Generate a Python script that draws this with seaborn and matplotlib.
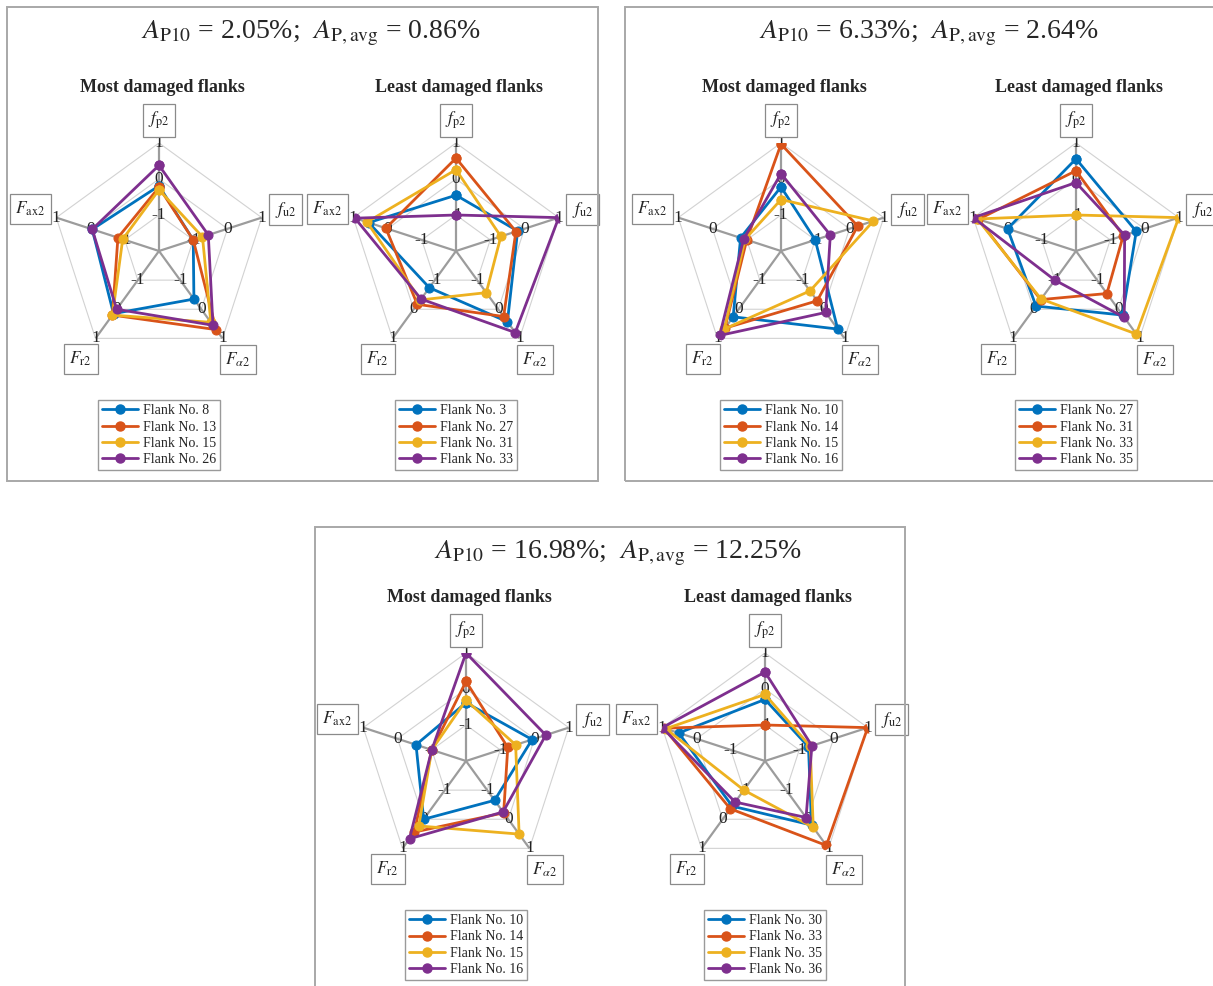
import numpy as np
import pandas as pd
import matplotlib
matplotlib.use("Agg")
import matplotlib.pyplot as plt
import seaborn as sns
from matplotlib.lines import Line2D
from matplotlib.patches import Rectangle

# ---------------- data ----------------
axis_labels = [r"$f_{\mathrm{p2}}$", r"$f_{\mathrm{u2}}$", r"$F_{\alpha\mathrm{2}}$",
               r"$F_{\mathrm{r2}}$", r"$F_{\mathrm{ax2}}$"]
ring_levels = [-1, 0, 1]
colors = ["#0072BD", "#D95319", "#EDB120", "#7E2F8E"]

titles = [r"$A_{\mathrm{P10}}$ = 2.05%;  $A_{\mathrm{P,avg}}$ = 0.86%",
          r"$A_{\mathrm{P10}}$ = 6.33%;  $A_{\mathrm{P,avg}}$ = 2.64%",
          r"$A_{\mathrm{P10}}$ = 16.98%;  $A_{\mathrm{P,avg}}$ = 12.25%"]
subtitles = ["Most damaged flanks", "Least damaged flanks"]

# values ordered as [f_p2, f_u2, F_alpha2, F_r2, F_ax2]
flanks_a_most = [8, 13, 15, 26]
vals_a_most = [[-0.19, -1.00, -0.35, 0.15, -0.05],
               [-0.23, -1.00, 0.70, 0.20, -0.80],
               [-0.30, -0.73, 0.45, 0.20, -0.94],
               [0.38, -0.56, 0.55, 0.00, -0.05]]
flanks_a_least = [3, 27, 31, 33]
vals_a_least = [[-0.45, -0.20, 0.43, -0.74, 0.55],
                [0.58, -0.25, 0.25, -0.17, 0.05],
                [0.26, -0.69, -0.57, -0.32, 0.60],
                [-1.00, 1.00, 0.80, -0.35, 0.95]]
flanks_b_most = [10, 14, 15, 16]
vals_b_most = [[-0.22, -1.00, 0.68, 0.26, -0.82],
               [0.97, 0.24, -0.29, 0.65, -1.00],
               [-0.57, 0.70, -0.63, 0.68, -0.95],
               [0.15, -0.56, 0.11, 0.90, -0.91]]
flanks_b_least = [27, 31, 33, 35]
vals_b_least = [[0.56, -0.24, 0.20, -0.11, 0.00],
                [0.23, -0.62, -0.54, -0.33, 0.85],
                [-1.00, 1.00, 0.85, -0.35, 0.88],
                [-0.10, -0.58, 0.28, -1.00, 1.00]]
flanks_c_most = [10, 14, 15, 16]
vals_c_most = [[-0.38, -0.07, -0.65, 0.00, -0.54],
               [0.21, -0.78, -0.22, 0.44, -1.00],
               [-0.31, -0.55, 0.51, 0.23, -1.00],
               [1.00, 0.33, -0.25, 0.67, -1.00]]
flanks_c_least = [30, 33, 35, 36]
vals_c_least = [[-0.29, -0.73, 0.20, -0.45, 0.52],
                [-1.00, 1.00, 0.90, -0.36, 0.95],
                [-0.15, -0.68, 0.28, -1.00, 0.90],
                [0.47, -0.63, -0.06, -0.59, 1.00]]

# ---------------- style ----------------
sns.set_theme(style="white")
plt.rcParams["font.family"] = ["Liberation Serif", "DejaVu Serif"]
plt.rcParams["mathtext.fontset"] = "stix"

W, H = 1213, 986
fig = plt.figure(figsize=(W / 100, H / 100), dpi=100)
R = 108  # radar radius in px

theta = np.pi / 2 - np.arange(5) * 2 * np.pi / 5
theta_closed = np.append(theta, theta[0] - 2 * np.pi)
label_r = [1.62, 1.70, 1.72, 1.70, 1.76]


def radar(cx, cy, flanks, vals, legend_top):
    ax = fig.add_axes([(cx - R) / W, 1 - (cy + R) / H, 2 * R / W, 2 * R / H],
                      projection="polar")
    ax.set_facecolor("none")
    # web
    for lvl in ring_levels:
        ax.plot(theta_closed, [lvl] * 6, color="#d2d2d2", lw=0.8, zorder=1)
    for t in theta:
        ax.plot([t, t], [-2, 1], color="#9c9c9c", lw=1.6, zorder=1)
    # tick labels
    for t in theta:
        for lvl in ring_levels:
            ax.text(t, lvl, str(lvl), ha="center", va="center", fontsize=12.5,
                    color="#222222", zorder=2)
    # data
    handles = []
    for fl, v, c in zip(flanks, vals, colors):
        df = pd.DataFrame({"theta": theta_closed, "value": np.append(v, v[0])})
        sns.lineplot(data=df, x="theta", y="value", sort=False, estimator=None,
                     color=c, lw=2, marker="o", markersize=6.5,
                     markeredgecolor=c, ax=ax, legend=False, zorder=3)
        handles.append(Line2D([0], [0], color=c, lw=2, marker="o",
                              markersize=6.5, label=f"Flank No. {fl}"))
    ax.set_ylim(-2, 1)
    ax.set_xticks([])
    ax.set_yticks([])
    ax.grid(False)
    ax.spines["polar"].set_visible(False)
    ax.set_xlabel("")
    ax.set_ylabel("")
    # axis name boxes
    for t, lab, lr in zip(theta, axis_labels, label_r):
        ax.text(t, lr, lab, ha="center", va="center", fontsize=12.5,
                clip_on=False, zorder=4,
                bbox=dict(boxstyle="square,pad=0.32", fc="white",
                          ec="#8a8a8a", lw=0.9))
    fig.legend(handles=handles, loc="upper center",
               bbox_to_anchor=(cx / W, 1 - legend_top / H), fontsize=10,
               frameon=True, fancybox=False, edgecolor="#9a9a9a",
               framealpha=1, borderpad=0.3, labelspacing=0.24,
               handlelength=2.6, handletextpad=0.3, borderaxespad=0)


panels = [
    (159, 251, flanks_a_most, vals_a_most, 400, 0),
    (456, 251, flanks_a_least, vals_a_least, 400, 1),
    (781, 251, flanks_b_most, vals_b_most, 400, 0),
    (1076, 251, flanks_b_least, vals_b_least, 400, 1),
    (466, 761, flanks_c_most, vals_c_most, 910, 0),
    (765, 761, flanks_c_least, vals_c_least, 910, 1),
]
for cx, cy, fl, vals, ltop, si in panels:
    radar(cx, cy, fl, vals, ltop)
    fig.text((cx + 3) / W, 1 - (cy - 164) / H, subtitles[si], ha="center",
             va="center", fontsize=13, fontweight="bold")

# outer frames + titles
frames = [(7, 7, 598, 481), (625, 7, 1216, 481), (315, 527, 905, 990)]
for (x0, y0, x1, y1), title in zip(frames, titles):
    fig.add_artist(Rectangle((x0 / W, 1 - y1 / H), (x1 - x0) / W, (y1 - y0) / H,
                             transform=fig.transFigure, fill=False,
                             ec="#a8a8a8", lw=1.4))
    fig.text(((x0 + x1) / 2 + 8) / W, 1 - (y0 + 26) / H, title,
             ha="center", va="center", fontsize=20)

fig.savefig("out.png", dpi=100)
